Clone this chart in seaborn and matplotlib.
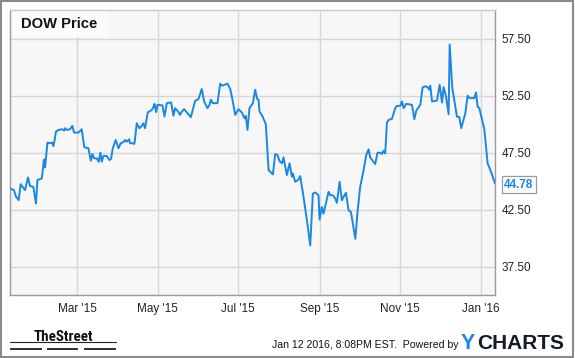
import matplotlib
matplotlib.use("Agg")
import matplotlib.pyplot as plt
import matplotlib.dates as mdates
from matplotlib.patches import Rectangle
from matplotlib.lines import Line2D
from matplotlib import font_manager as fm
import seaborn as sns
import pandas as pd

# ---------------- data ----------------
start_date = "2015-01-09"
day_offsets = [
    0.0, 3.0, 4.6, 6.6, 8.1, 11.4, 13.7, 15.2, 17.7, 19.7, 20.8, 24.1, 25.8, 26.6,
    28.4, 30.4, 32.2, 32.9, 33.7, 34.9, 36.7, 39.7, 41.0, 41.8, 43.0, 45.6, 47.3,
    48.6, 51.9, 54.4, 56.4, 59.5, 61.3, 62.5, 63.8, 65.8, 67.3, 68.6, 69.6, 70.9,
    73.4, 75.4, 76.7, 78.0, 80.2, 82.3, 84.0, 86.6, 87.3, 88.6, 90.4, 91.1, 92.9,
    94.4, 96.2, 98.2, 100.0, 101.2, 102.5, 104.5, 107.6, 108.8, 109.6, 110.9,
    111.9, 115.7, 117.2, 119.0, 122.3, 124.0, 125.3, 127.1, 129.1, 130.4, 132.1,
    134.7, 137.2, 140.5, 143.0, 145.5, 147.3, 149.8, 151.4, 152.4, 153.9, 157.4,
    159.5, 161.0, 163.0, 165.0, 167.1, 168.8, 170.9, 173.4, 175.9, 177.9, 178.9,
    180.2, 181.7, 184.3, 186.0, 187.6, 188.6, 189.3, 191.6, 194.1, 196.2, 198.7,
    199.5, 201.2, 203.0, 204.5, 206.3, 207.5, 208.8, 210.1, 212.1, 213.9, 214.6,
    216.4, 218.9, 220.2, 222.7, 225.3, 227.8, 229.8, 231.6, 234.1, 234.9, 236.6,
    237.9, 241.7, 243.0, 245.0, 246.8, 248.0, 250.1, 251.8, 253.1, 254.9, 256.9,
    258.7, 262.0, 263.7, 265.7, 268.3, 270.3, 272.1, 273.3, 277.1, 278.9, 280.9,
    282.2, 283.5, 284.7, 286.0, 287.3, 289.8, 291.1, 292.3, 293.6, 296.1, 297.4,
    298.7, 300.7, 305.0, 306.8, 308.3, 311.3, 313.1, 315.1, 316.9, 318.1, 318.9,
    320.2, 324.0, 326.0, 327.8, 329.0, 330.8, 332.8, 333.6, 334.6, 335.6, 337.1,
    339.1, 340.9, 342.4, 345.5, 347.2, 348.8, 352.3, 353.6, 354.8, 356.1, 359.9,
    362.4, 365.0, 368.0,
]
prices = [
    44.34, 44.20, 43.61, 43.32, 44.72, 44.20, 45.31, 44.55, 44.49, 43.02, 45.08,
    45.22, 46.90, 46.19, 48.37, 48.31, 48.37, 48.07, 48.51, 49.34, 49.48, 49.54,
    49.42, 49.63, 49.48, 49.54, 49.84, 49.25, 49.25, 49.54, 47.96, 47.87, 46.78,
    47.37, 46.99, 46.99, 46.69, 47.49, 46.69, 47.19, 47.19, 46.84, 46.93, 47.87,
    48.60, 47.87, 48.31, 48.45, 48.60, 48.45, 48.66, 48.31, 48.31, 48.25, 50.07,
    49.63, 49.84, 50.07, 49.63, 51.01, 51.24, 51.48, 51.77, 51.04, 51.69, 51.63,
    50.66, 51.83, 51.89, 50.72, 51.39, 51.16, 50.80, 51.10, 51.30, 50.95, 50.60,
    52.04, 52.18, 53.07, 51.98, 51.39, 51.69, 52.13, 51.83, 51.83, 53.54, 53.36,
    53.45, 53.54, 53.07, 52.13, 50.80, 51.30, 51.01, 50.51, 50.72, 49.48, 51.39,
    51.83, 53.01, 52.18, 52.13, 51.10, 50.66, 49.98, 45.96, 45.66, 45.58, 47.37,
    47.28, 46.75, 46.55, 47.07, 46.31, 45.52, 46.55, 45.37, 45.66, 44.93, 45.13,
    45.43, 43.61, 41.55, 39.35, 43.90, 43.99, 43.75, 41.61, 42.72, 42.14, 44.05,
    43.75, 43.75, 43.46, 43.08, 44.93, 43.31, 43.61, 43.96, 42.43, 42.28, 39.93,
    42.28, 44.49, 45.96, 47.28, 47.78, 47.07, 46.48, 47.48, 47.48, 47.37, 47.66,
    47.42, 50.13, 50.36, 50.45, 50.95, 51.39, 51.59, 51.59, 51.98, 51.39, 51.77,
    51.68, 50.42, 51.18, 51.68, 53.21, 53.30, 53.24, 53.00, 53.36, 51.98, 52.06,
    53.44, 51.89, 53.24, 52.42, 50.86, 56.97, 55.06, 53.15, 52.12, 50.65, 50.60,
    49.63, 50.95, 52.48, 52.27, 52.27, 52.77, 51.53, 51.39, 49.54, 46.54, 45.81,
    44.78,
]
y_ticks = [37.5, 42.5, 47.5, 52.5, 57.5]
x_limits = ["2015-01-09", "2016-01-12"]
y_limits = [35.0, 60.0]
title_text = "DOW Price"
last_label = "44.78"
footer_text = "Jan 12 2016, 8:08PM EST.  Powered by"

# ---------------- style ----------------
sns.set_style("white")
plt.rcParams["font.family"] = ["Liberation Sans", "DejaVu Sans"]

LINE = "#1a87e4"
W, H = 575, 358

df = pd.DataFrame({
    "date": pd.to_datetime(start_date) + pd.to_timedelta(day_offsets, unit="D"),
    "price": prices,
})

fig = plt.figure(figsize=(W / 100, H / 100), dpi=100)
fig.patch.set_facecolor("white")
ax = fig.add_axes([10 / W, 1 - 295 / H, 485 / W, 285 / H])
ax.set_facecolor("#f7f7f7")

sns.lineplot(data=df, x="date", y="price", ax=ax, color=LINE, lw=1.4,
             zorder=3, estimator=None)

ax.set_xlim(pd.to_datetime(x_limits[0]), pd.to_datetime(x_limits[1]))
ax.set_ylim(*y_limits)
ax.set_xlabel("")
ax.set_ylabel("")

ax.xaxis.set_major_locator(mdates.MonthLocator(bymonth=[1, 3, 5, 7, 9, 11]))
ax.xaxis.set_major_formatter(mdates.DateFormatter("%b '%y"))
ax.set_yticks(y_ticks)
ax.set_yticklabels([f"{v:.2f}" for v in y_ticks])
ax.yaxis.tick_right()
ax.tick_params(axis="both", length=0, labelsize=8.5, colors="#222222")
ax.tick_params(axis="x", pad=6)
ax.tick_params(axis="y", pad=5)
ax.grid(True, color="#d6d6d6", lw=1.0, zorder=0)
ax.set_axisbelow(True)
for side, sp in ax.spines.items():
    sp.set_visible(True)
    sp.set_color("#9a9a9a")
    sp.set_linewidth(1.0)
ax.spines["top"].set_color("#c8c8c8")

# title box
ax.add_patch(Rectangle((0, 1 - 27 / 285), 98 / 485, 27 / 285, transform=ax.transAxes,
                       facecolor="#fbfbfb", edgecolor="none", zorder=1))
ax.text(11 / 485, 1 - 13.5 / 285, title_text, transform=ax.transAxes,
        fontsize=10.6, fontweight="bold", color="#111111", va="center", ha="left",
        zorder=4)

# last value label
last_x = df["date"].iloc[-1]
last_y = df["price"].iloc[-1]
ax.annotate(last_label, xy=(last_x, last_y), xytext=(24, -1),
            textcoords="offset pixels", ha="center", va="center",
            fontsize=8.5, fontweight="bold", color=LINE, annotation_clip=False,
            bbox=dict(boxstyle="square,pad=0.22", facecolor="white",
                      edgecolor="#9a9a9a", lw=0.9), zorder=6)

# ---------------- footer ----------------
def fx(x):
    return x / W

def fy(y):
    return 1 - y / H

names = {f.name for f in fm.fontManager.ttflist}
logo_font, logo_size = "Liberation Sans", 8.4
for cand, size in [("Liberation Sans Narrow", 10.8), ("DejaVu Sans Condensed", 9.0),
                   ("Roboto Condensed", 10.8)]:
    if cand in names:
        logo_font, logo_size = cand, size
        break
fig.text(fx(63), fy(340.8), "TheStreet", fontsize=logo_size, fontweight="bold",
         family=[logo_font, "DejaVu Sans"], ha="center", va="baseline", color="#111111")
fig.add_artist(Line2D([fx(10), fx(116)], [fy(341.8), fy(341.8)], color="#222222", lw=0.8))
for x0, x1 in [(10, 42), (47, 78), (84, 116)]:
    fig.add_artist(Rectangle((fx(x0), fy(350.3)), fx(x1 - x0), 2.8 / H,
                             facecolor="#333333", edgecolor="none"))

fig.text(fx(271.5), fy(348), footer_text, fontsize=7.6, color="#111111",
         ha="left", va="baseline")
fig.text(fx(461), fy(349), "Y", fontsize=15.5, fontweight="bold", color="#1a8be0",
         ha="left", va="baseline")
fig.text(fx(477.5), fy(349), "CHARTS", fontsize=15, fontweight="bold", color="#141a28",
         ha="left", va="baseline")

# outer border
fig.add_artist(Rectangle((fx(1), fy(357)), fx(571.5), 356 / H, fill=False,
                         edgecolor="#8a8a8a", lw=1.5))

fig.savefig("out.png", dpi=100)
